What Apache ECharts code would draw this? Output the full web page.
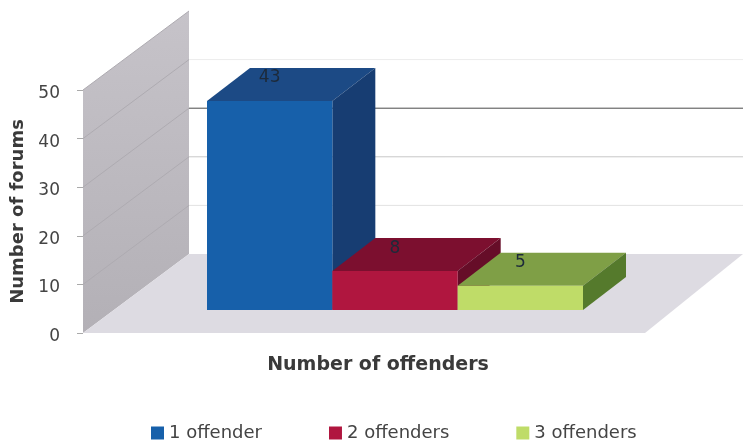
<!DOCTYPE html>
<html>
<head>
<meta charset="utf-8">
<style>html,body{margin:0;padding:0;background:#fff}#c{width:743px;height:444px}</style>
<script src="https://cdn.jsdelivr.net/npm/echarts@6/dist/echarts.min.js"></script>
</head>
<body>
<div id="c"></div>
<script>
var categories = ['Number of offenders'];
var seriesNames = ['1 offender', '2 offenders', '3 offenders'];
var seriesValues = [43, 8, 5];
var yTicks = [0, 10, 20, 30, 40, 50];
var wallLines = [10, 20, 30, 40, 50];
var backLineColors = ['#e2e2e2', '#c8c8c8', '#4a4a4a', '#ececec', 'rgba(0,0,0,0)'];
var frontColors = ['#1760aa', '#b0163f', '#bfdc68'];
var topColors = ['#1c4a85', '#7c0f2f', '#7f9f46'];
var sideColors = ['#173d72', '#660d28', '#557a2c'];

var FONT = '"DejaVu Sans",sans-serif';
var WALL_DX = 106, WALL_DY = -79;
var BAR_DX = 43, BAR_DY = -33;
var BASE_DX = 31, BASE_DY = -23;
var CLUSTER = 376 / 562;

function wallsItem(params, api) {
  var cs = params.coordSys;
  var p0 = api.coord([0, 0]), p50 = api.coord([0, 50]);
  var x0 = cs.x, x1 = cs.x + cs.width, y0 = p0[1], y5 = p50[1];
  return {
    type: 'group',
    children: [
      { type: 'polygon', shape: { points: [[x0, y0], [x0, y5], [x0 + WALL_DX, y5 + WALL_DY], [x0 + WALL_DX, y0 + WALL_DY]] },
        style: { fill: new echarts.graphic.LinearGradient(0, 0, 0, 1, [{ offset: 0, color: '#c6c3c9' }, { offset: 1, color: '#b3b0b6' }]) } },
      { type: 'polygon', shape: { points: [[x0, y0], [x0 + WALL_DX, y0 + WALL_DY], [x1 + WALL_DX - 8, y0 + WALL_DY], [x1, y0]] },
        style: { fill: '#dddbe2' } }
    ]
  };
}

function linesItem(params, api) {
  var cs = params.coordSys;
  var p = api.coord([0, api.value(0)]);
  var x0 = cs.x, y = p[1];
  return {
    type: 'group',
    children: [
      { type: 'line', shape: { x1: x0, y1: y, x2: x0 + WALL_DX, y2: y + WALL_DY }, style: { stroke: '#aeabb1', lineWidth: 1 } },
      { type: 'line', shape: { x1: x0 + WALL_DX, y1: y + WALL_DY, x2: 743, y2: y + WALL_DY }, style: { stroke: backLineColors[params.dataIndex], lineWidth: 1 } }
    ]
  };
}

function barItem(idx) {
  return function (params, api) {
    var c0 = api.coord([0, 0]), cv = api.coord([0, api.value(1)]);
    var w = api.size([1, 0])[0] * CLUSTER / seriesValues.length;
    var left = c0[0] - w * seriesValues.length / 2 + w * idx + BASE_DX;
    var right = left + w;
    var base = c0[1] + BASE_DY, top = cv[1] + BASE_DY;
    return {
      type: 'group',
      children: [
        { type: 'polygon', shape: { points: [[left, top], [left + BAR_DX, top + BAR_DY], [right + BAR_DX, top + BAR_DY], [right, top]] }, style: { fill: topColors[idx] } },
        { type: 'polygon', shape: { points: [[right, top], [right + BAR_DX, top + BAR_DY], [right + BAR_DX, base + BAR_DY], [right, base]] }, style: { fill: sideColors[idx] } },
        { type: 'rect', shape: { x: left, y: top, width: w, height: base - top }, style: { fill: frontColors[idx] } },
        { type: 'text', style: { text: String(api.value(1)), x: left + w / 2, y: top - 23, align: 'center', verticalAlign: 'middle', fill: '#1d2a3a', font: '17px ' + FONT } }
      ]
    };
  };
}

var series = [
  { type: 'custom', name: 'walls', silent: true, clip: false, z: 1, renderItem: wallsItem, data: [[0, 0]] },
  { type: 'custom', name: 'lines', silent: true, clip: false, z: 2, renderItem: linesItem, data: wallLines.map(function (v) { return [v]; }), encode: { y: 0 } }
];
seriesNames.forEach(function (n, i) {
  series.push({
    type: 'custom', name: n, clip: false, z: 3 + i, renderItem: barItem(i),
    itemStyle: { color: frontColors[i] },
    data: [[0, seriesValues[i]]], encode: { x: 0, y: 1 }
  });
});

var chart = echarts.init(document.getElementById('c'), null, { renderer: 'canvas' });
chart.setOption({
  animation: false,
  backgroundColor: '#fff',
  grid: { left: 83, right: 98, top: 90, bottom: 111, containLabel: false },
  legend: {
    data: seriesNames, left: 146, top: 419, icon: 'rect', itemWidth: 13, itemHeight: 13, itemGap: 67,
    textStyle: { fontFamily: FONT, fontSize: 18, color: '#444' }
  },
  xAxis: {
    type: 'category', data: categories,
    axisLine: { show: false }, axisTick: { show: false }, axisLabel: { show: false },
    name: categories[0], nameLocation: 'middle', nameGap: 23,
    nameTextStyle: { fontFamily: FONT, fontWeight: 'bold', fontSize: 19, color: '#3a3a3a', padding: [0, 0, 0, 28] }
  },
  yAxis: {
    type: 'value', min: 0, max: 50, interval: 10,
    axisLine: { show: false }, splitLine: { show: false },
    axisTick: { show: true, length: 6, lineStyle: { color: '#aaaaaa' } },
    axisLabel: {
      margin: 23, fontFamily: FONT, fontSize: 17, color: '#444',
      formatter: function (v) { return yTicks.indexOf(v) >= 0 ? '{a|' + v + '}' : ''; },
      rich: { a: { fontFamily: FONT, fontSize: 17, color: '#444', padding: [7, 0, 0, 0] } }
    },
    name: 'Number of forums', nameLocation: 'middle', nameGap: 53,
    nameTextStyle: { fontFamily: FONT, fontWeight: 'bold', fontSize: 18, color: '#3a3a3a' }
  },
  series: series
});
</script>
</body>
</html>
